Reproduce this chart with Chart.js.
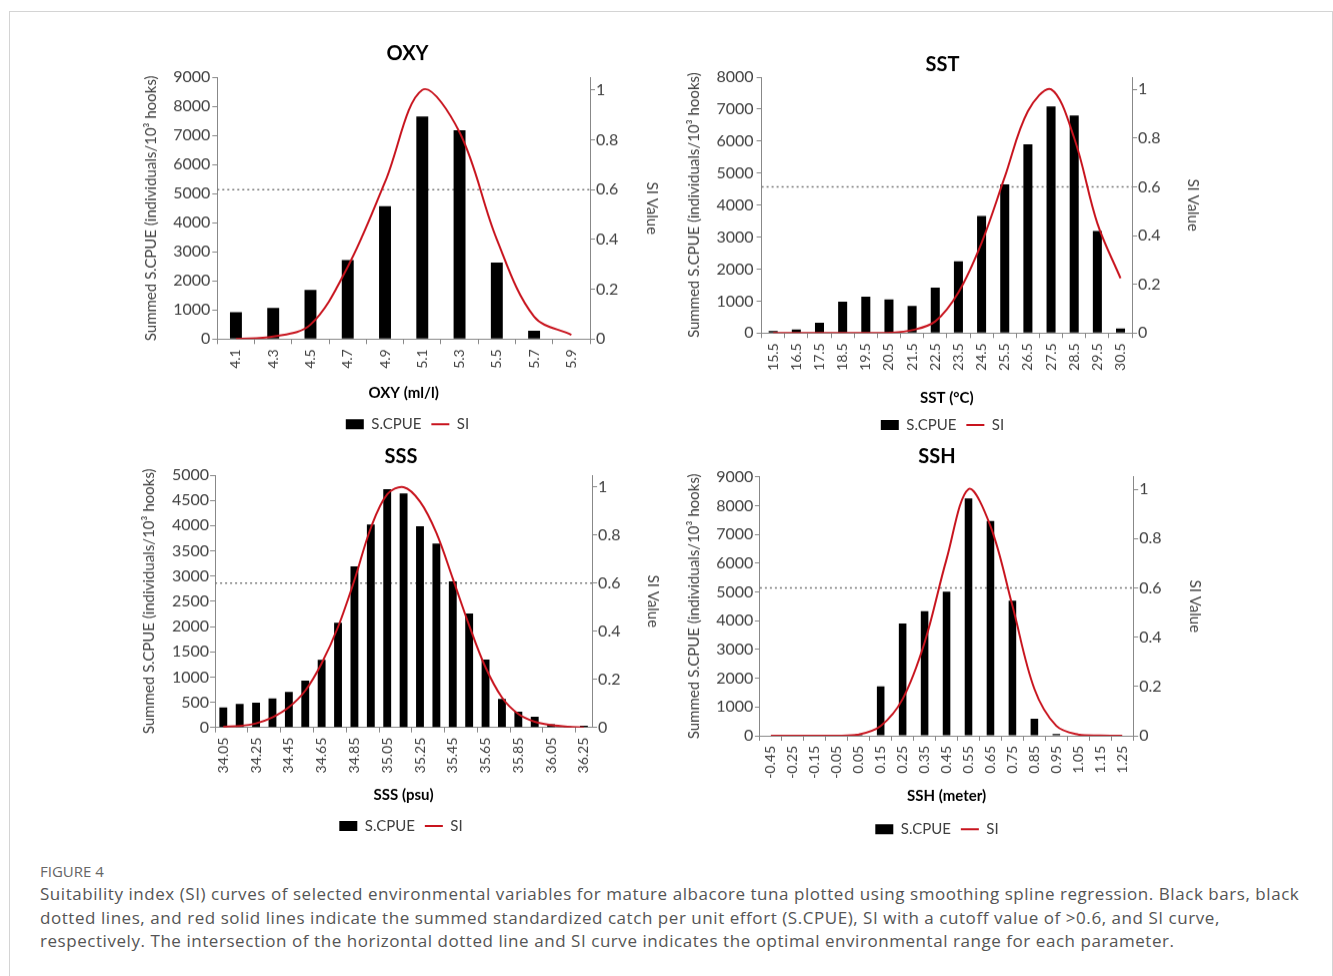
<!DOCTYPE html>
<html>
<head>
<meta charset="utf-8">
<script src="https://cdn.jsdelivr.net/npm/chart.js@4.4.1/dist/chart.umd.min.js"></script>
<style>
  html, body { margin: 0; padding: 0; background: #fff; }
  body { width: 1333px; height: 976px; position: relative; overflow: hidden; }
  .frame { position: absolute; left: 9px; top: 11px; width: 1324px; height: 1000px; border: 1px solid #d4d4d4; box-sizing: border-box; }
  .panel { position: absolute; }
  .fig { position: absolute; left: 40px; top: 861px; font: 15px/20px "Open Sans", sans-serif; color: #666; }
  .caption { position: absolute; left: 40px; top: 882px; font: 17px/23.5px "Open Sans", sans-serif; letter-spacing: 0.55px; color: #555; white-space: nowrap; }
</style>
</head>
<body>
<div class="frame"></div>

<div class="panel" style="left:135px;top:35px;width:545px;height:405.8px"><canvas id="oxy"></canvas></div>
<div class="panel" style="left:680px;top:40px;width:525px;height:401.5px"><canvas id="sst"></canvas></div>
<div class="panel" style="left:135px;top:432px;width:532px;height:410.5px"><canvas id="sss"></canvas></div>
<div class="panel" style="left:669px;top:432px;width:536px;height:413.8px"><canvas id="ssh"></canvas></div>

<div class="fig">FIGURE 4</div>
<div class="caption">Suitability index (SI) curves of selected environmental variables for mature albacore tuna plotted using smoothing spline regression. Black bars, black<br>dotted lines, and red solid lines indicate the summed standardized catch per unit effort (S.CPUE), SI with a cutoff value of &gt;0.6, and SI curve,<br>respectively. The intersection of the horizontal dotted line and SI curve indicates the optimal environmental range for each parameter.</div>

<script>
// ---- data ----
const oxyLabels = ["4.1", "4.3", "4.5", "4.7", "4.9", "5.1", "5.3", "5.5", "5.7", "5.9"];
const oxyCpue = [920, 1070, 1690, 2720, 4575, 7655, 7184, 2632, 287, 0];
const oxySi = [0, 0.01, 0.058, 0.29, 0.63, 1.0, 0.83, 0.40, 0.09, 0.017];

const sstLabels = ["15.5", "16.5", "17.5", "18.5", "19.5", "20.5", "21.5", "22.5", "23.5", "24.5", "25.5", "26.5", "27.5", "28.5", "29.5", "30.5"];
const sstCpue = [63, 115, 323, 980, 1137, 1053, 845, 1418, 2242, 3660, 4650, 5902, 7080, 6800, 3191, 146];
const sstSi = [0, 0, 0, 0, 0, 0.001, 0.012, 0.048, 0.167, 0.37, 0.64, 0.91, 1.0, 0.80, 0.45, 0.225];

const sssLabels = ["34.05", "34.15", "34.25", "34.35", "34.45", "34.55", "34.65", "34.75", "34.85", "34.95", "35.05", "35.15",
  "35.25", "35.35", "35.45", "35.55", "35.65", "35.75", "35.85", "35.95", "36.05", "36.15", "36.25"];
const sssCpue = [397, 464, 490, 576, 702, 927, 1338, 2073, 3192, 4020, 4722, 4636, 3987, 3642, 2894, 2258, 1344, 563, 311, 212, 66, 20, 33];
const sssSi = [0.003, 0.006, 0.017, 0.042, 0.084, 0.153, 0.267, 0.418, 0.613, 0.83, 0.97, 1.0, 0.94, 0.81, 0.62, 0.425, 0.25, 0.125, 0.056, 0.024, 0.01, 0.003, 0];

const sshLabels = ["-0.45", "-0.25", "-0.15", "-0.05", "0.05", "0.15", "0.25", "0.35", "0.45", "0.55", "0.65", "0.75", "0.85", "0.95", "1.05", "1.15", "1.25"];
const sshCpue = [0, 0, 0, 0, 46, 1719, 3902, 4332, 5006, 8246, 7468, 4692, 592, 58, 15, 0, 0];
const sshSi = [0, 0, 0, 0, 0.005, 0.04, 0.149, 0.378, 0.716, 1.0, 0.85, 0.527, 0.19, 0.04, 0.005, 0.001, 0];

const siTicks = [0, 0.2, 0.4, 0.6, 0.8, 1];
const siMax = 1.05;
const cutoff = 0.6;

const Y_TITLE = "Summed S.CPUE (individuals/10\u00B3 hooks)";
const RED = "#c8141e";
const AXIS = "#888888";
const TEXT = "#404040";

Chart.defaults.font.family = "Lato, 'Open Sans', sans-serif";
Chart.defaults.animation = false;

function buildPanel(id, p) {
  new Chart(document.getElementById(id), {
    type: "bar",
    data: {
      labels: p.labels,
      datasets: [
        { label: "S.CPUE", data: p.cpue, backgroundColor: "#000", borderWidth: 0, grouped: false,
          barPercentage: p.barPct, categoryPercentage: 1, yAxisID: "y", order: 1 },
        { type: "line", label: "SI", data: p.si, yAxisID: "y2", borderColor: RED, backgroundColor: RED,
          borderWidth: 2, pointRadius: 0, tension: 0.35, order: 0 },
        { type: "line", label: "cutoff", data: [{ x: 0, y: cutoff }, { x: 1, y: cutoff }], xAxisID: "xr", yAxisID: "y2",
          borderColor: "#7a7a7a", borderWidth: 1.5, borderDash: [2, 3], pointRadius: 0, order: 2 }
      ]
    },
    options: {
      responsive: true,
      maintainAspectRatio: false,
      events: [],
      layout: { padding: 0 },
      plugins: {
        tooltip: { enabled: false },
        title: {
          display: true, text: p.title, color: "#000",
          font: { size: 20, weight: "bold", lineHeight: 1.2 },
          padding: { top: p.tTop, bottom: p.tBot }
        },
        legend: {
          position: "bottom",
          labels: {
            usePointStyle: true, pointStyleWidth: 18, boxHeight: 10, padding: 10,
            color: TEXT, font: { size: 15 },
            generateLabels: (chart) => Chart.defaults.plugins.legend.labels.generateLabels(chart)
              .filter((it) => it.datasetIndex < 2)
              .sort((a, b) => a.datasetIndex - b.datasetIndex)
              .map((it) => Object.assign(it, { pointStyle: it.datasetIndex === 0 ? "rect" : "line" }))
          }
        }
      },
      scales: {
        x: {
          type: "category", offset: true,
          grid: { offset: true, drawOnChartArea: false, tickLength: 5, color: p.tickColor || AXIS },
          border: { color: AXIS },
          ticks: { autoSkip: false, minRotation: 90, maxRotation: 90, padding: 5, color: TEXT,
            font: { size: 14 }, callback: p.xCb || function (v) { return this.getLabelForValue(v); } },
          title: { display: true, text: p.xTitle, color: "#000", font: { size: 15, weight: "bold", lineHeight: 1.2 },
            padding: { top: 0, bottom: p.xTitlePad } },
          afterFit: (s) => { s.height = p.xH; }
        },
        xr: { type: "linear", display: false, offset: false, min: 0, max: 1 },
        y: {
          position: "left", min: 0, max: p.yMax,
          ticks: { stepSize: p.yStep, padding: p.yPad, color: TEXT, font: { size: 16 }, callback: (v) => String(v) },
          grid: { drawOnChartArea: false, tickLength: 5, color: AXIS },
          border: { color: AXIS },
          title: { display: true, text: Y_TITLE, color: TEXT, font: { size: 15, lineHeight: 1.2 },
            padding: { top: p.yTitlePad, bottom: 0 } },
          afterFit: (s) => { s.width = p.yW; }
        },
        y2: {
          position: "right", min: 0, max: siMax,
          afterBuildTicks: (s) => { s.ticks = siTicks.map((v) => ({ value: v })); },
          ticks: { padding: 1, color: TEXT, font: { size: 16 }, callback: (v) => String(v) },
          grid: { drawOnChartArea: false, tickLength: 5, color: AXIS },
          border: { color: AXIS },
          title: { display: true, text: "SI Value", color: TEXT, font: { size: 15, lineHeight: 1.2 },
            padding: { top: p.y2TitlePad, bottom: 0 } },
          afterFit: (s) => { s.width = p.y2W; }
        }
      }
    }
  });
}

buildPanel("oxy", {
  title: "OXY", labels: oxyLabels, cpue: oxyCpue, si: oxySi, xTitle: "OXY (ml/l)",
  yMax: 9000, yStep: 1000, barPct: 0.32,
  tTop: 6.3, tBot: 12, xH: 67.5, xTitlePad: 5.1,
  yW: 82.3, yPad: 2, yTitlePad: 7, y2W: 90, y2TitlePad: 19.3
});

buildPanel("sst", {
  title: "SST", labels: sstLabels, cpue: sstCpue, si: sstSi, xTitle: "SST (\u00B0C)",
  yMax: 8000, yStep: 1000, barPct: 0.39,
  tTop: 13, tBot: 0, xH: 74.2, xTitlePad: 0.8,
  yW: 81.6, yPad: 3, yTitlePad: 4.8, y2W: 72.9, y2TitlePad: 3
});

buildPanel("sss", {
  title: "SSS", labels: sssLabels, cpue: sssCpue, si: sssSi, xTitle: "SSS (psu)",
  yMax: 5000, yStep: 500, barPct: 0.48,
  tTop: 12.7, tBot: 6.3, xH: 80.8, xTitlePad: 4.5,
  yW: 80.1, yPad: 1, yTitlePad: 5.6, y2W: 74.9, y2TitlePad: 4.9,
  xCb: (v, i) => (i % 2 === 0 ? sssLabels[i] : ""),
  tickColor: (ctx) => (ctx.index % 2 === 0 ? AXIS : "rgba(0,0,0,0)")
});

buildPanel("ssh", {
  title: "SSH", labels: sshLabels, cpue: sshCpue, si: sshSi, xTitle: "SSH (meter)",
  yMax: 9000, yStep: 1000, barPct: 0.345,
  tTop: 12.7, tBot: 8, xH: 75.8, xTitlePad: 6.8,
  yW: 90.9, yPad: 1.6, yTitlePad: 15.8, y2W: 71.8, y2TitlePad: 1.2
});
</script>
</body>
</html>
